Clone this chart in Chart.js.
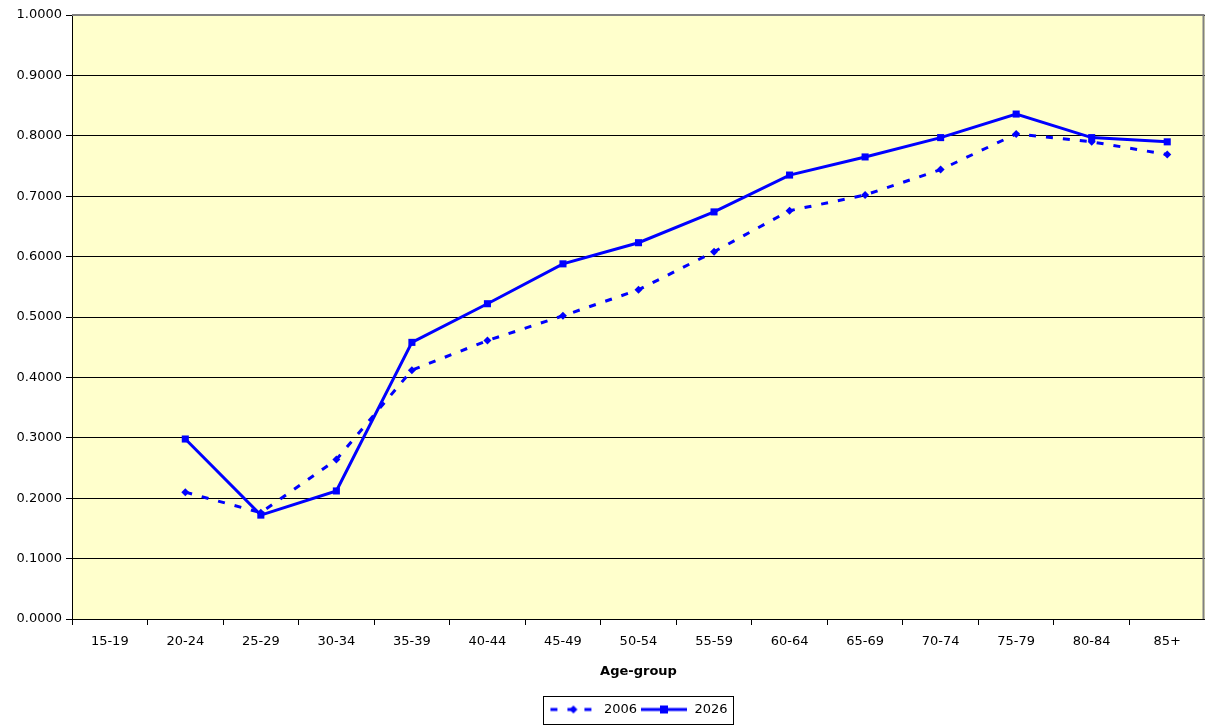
<!DOCTYPE html>
<html>
<head>
<meta charset="utf-8">
<script src="https://cdn.jsdelivr.net/npm/chart.js@4"></script>
<style>
  html, body { margin: 0; padding: 0; background: #fff; }
  #wrap { width: 1205px; height: 726px; }
</style>
</head>
<body>
<div id="wrap"><canvas id="chart"></canvas></div>
<script>
// values
const ageGroups = ['15-19', '20-24', '25-29', '30-34', '35-39', '40-44', '45-49', '50-54',
  '55-59', '60-64', '65-69', '70-74', '75-79', '80-84', '85+'];
const values2006 = [null, 0.210, 0.176, 0.264, 0.412, 0.461, 0.502, 0.545, 0.608, 0.676, 0.702, 0.744, 0.803, 0.790, 0.769];
const values2026 = [null, 0.298, 0.172, 0.212, 0.458, 0.522, 0.588, 0.623, 0.674, 0.735, 0.765, 0.797, 0.836, 0.797, 0.790];

const FONT = 'DejaVu Sans';
const BLUE = '#0000FF';

// small legend swatches: line with a marker in the middle
function swatch(dashed, marker) {
  const c = document.createElement('canvas');
  c.width = 48; c.height = 10;
  const g = c.getContext('2d');
  g.strokeStyle = BLUE; g.fillStyle = BLUE; g.lineWidth = 3;
  if (dashed) g.setLineDash([7, 10]);
  g.beginPath(); g.moveTo(1, 5); g.lineTo(47, 5); g.stroke();
  if (marker === 'diamond') {
    g.beginPath(); g.moveTo(24, 1); g.lineTo(28, 5); g.lineTo(24, 9); g.lineTo(20, 5); g.closePath(); g.fill();
  } else {
    g.fillRect(20, 1, 8, 8);
  }
  return c;
}
const legendIcons = [swatch(true, 'diamond'), swatch(false, 'square')];

const plotBg = {
  id: 'plotBg',
  beforeDraw(chart) {
    const { ctx, chartArea: a } = chart;
    ctx.save();
    ctx.fillStyle = '#FFFFCC';
    ctx.fillRect(a.left, a.top, a.right - a.left, a.bottom - a.top);
    ctx.restore();
  },
  beforeDatasetsDraw(chart) {
    // grey frame on top and right of the plot area
    const { ctx, chartArea: a } = chart;
    ctx.save();
    ctx.strokeStyle = '#808080'; ctx.lineWidth = 2;
    ctx.beginPath();
    ctx.moveTo(a.left, a.top);
    ctx.lineTo(a.right - 1.5, a.top);
    ctx.lineTo(a.right - 1.5, a.bottom);
    ctx.stroke();
    ctx.restore();
  },
  afterDraw(chart) {
    const boxes = chart.legend.legendHitBoxes;
    if (!boxes || !boxes.length) return;
    const ctx = chart.ctx;
    const l = Math.min(...boxes.map(b => b.left)) - 6;
    const r = Math.max(...boxes.map(b => b.left + b.width)) + 6;
    const mid = boxes[0].top + boxes[0].height / 2;
    ctx.save();
    ctx.strokeStyle = '#000'; ctx.lineWidth = 1;
    ctx.strokeRect(Math.round(l) + 0.5, Math.round(mid - 14) + 0.5, Math.round(r - l), 28);
    ctx.restore();
  }
};

new Chart(document.getElementById('chart'), {
  type: 'line',
  data: {
    labels: ageGroups,
    datasets: [
      {
        label: '2006',
        data: values2006,
        borderColor: BLUE, backgroundColor: BLUE,
        borderWidth: 3, borderDash: [7, 10],
        pointStyle: 'rectRot', pointRadius: 4, pointBorderWidth: 0,
        tension: 0
      },
      {
        label: '2026',
        data: values2026,
        borderColor: BLUE, backgroundColor: BLUE,
        borderWidth: 3,
        pointStyle: 'rect', pointRadius: 5, pointBorderWidth: 0,
        tension: 0
      }
    ]
  },
  options: {
    responsive: true,
    maintainAspectRatio: false,
    animation: false,
    layout: { autoPadding: false, padding: { top: 15, right: 0, left: 0, bottom: 0 } },
    scales: {
      x: {
        offset: true,
        afterFit(scale) { scale.height = 81; scale.paddingLeft = 0; scale.paddingRight = 0; },
        grid: { offset: true, drawOnChartArea: false, drawTicks: true, tickLength: 6, color: '#000' },
        border: { color: '#000' },
        ticks: { color: '#000', font: { family: FONT, size: 13 }, padding: 9 },
        title: { display: true, text: 'Age-group', color: '#000', font: { family: FONT, size: 13, weight: 'bold' }, padding: { top: 6, bottom: 21 } }
      },
      y: {
        min: 0, max: 1,
        afterFit(scale) { scale.width = 72; },
        grid: { color: '#000', lineWidth: 1, drawTicks: true, tickLength: 6 },
        border: { color: '#000' },
        ticks: {
          stepSize: 0.1, color: '#000', padding: 4,
          font: { family: FONT, size: 13 },
          callback: v => v.toFixed(4)
        }
      }
    },
    plugins: {
      legend: {
        position: 'bottom',
        fullSize: false,
        labels: {
          color: '#000',
          font: { family: FONT, size: 13 },
          usePointStyle: true,
          pointStyleWidth: 48,
          boxHeight: 10,
          padding: 3,
          generateLabels(chart) {
            return chart.data.datasets.map((ds, i) => ({
              text: ds.label,
              pointStyle: legendIcons[i],
              fillStyle: BLUE, strokeStyle: BLUE,
              lineWidth: 0, hidden: false, datasetIndex: i,
              fontColor: '#000'
            }));
          }
        }
      },
      tooltip: { enabled: false }
    }
  },
  plugins: [plotBg]
});
</script>
</body>
</html>
